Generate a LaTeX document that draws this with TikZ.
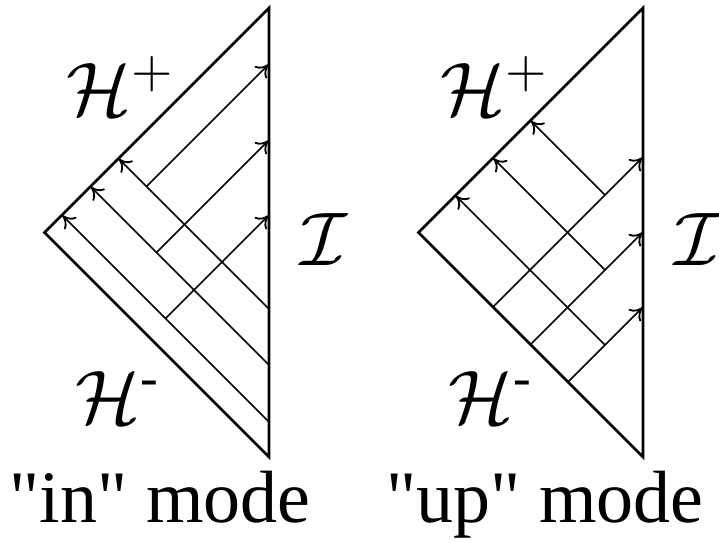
\documentclass[tikz,border=0pt]{standalone}
\usepackage{fontspec}
\setmainfont{Liberation Serif}[Ligatures=TeXOff]
\DeclareFontShape{OMS}{cmsy}{m}{n}{<->cmsy10}{}
\DeclareFontShape{OT1}{cmr}{m}{n}{<->cmr10}{}
\DeclareFontShape{OML}{cmm}{m}{it}{<->cmmi10}{}
\usetikzlibrary{arrows.meta}
\tikzset{
  edge/.style={line width=2.6pt, line join=miter},
  ray/.style={line width=1.6pt},
  arr/.style={ray, arrows={-Computer Modern Rightarrow[length=12pt,width=17pt,line width=1.8pt]}, shorten >=0.5pt},
  lbl/.style={inner sep=0pt, anchor=base west, font=\fontsize{76}{76}\selectfont},
  captext/.style={inner sep=0pt, anchor=base, font=\fontsize{74}{74}\selectfont}}
\begin{document}
\begin{tikzpicture}[x=1pt,y=-1pt]
\useasboundingbox (0,0) rectangle (719,542);
% ---------- left triangle ("in" mode)
\coordinate (LT) at (269,8);
\coordinate (LL) at (44.5,232.5);
\coordinate (LB) at (269,457);
\draw[edge] (LT) -- (LL) -- (LB) -- cycle;
\coordinate (A1) at (269,309);
\coordinate (A2) at (269,365);
\coordinate (A3) at (269,422);
\coordinate (B1) at (118.5,158.5);
\coordinate (B2) at (90.5,186.5);
\coordinate (B3) at (62,215);
\coordinate (J1) at (146.5,186.5);
\coordinate (J2) at (156.5,252.5);
\coordinate (J3) at (165.5,318.5);
\coordinate (C1) at (269,64);
\coordinate (C2) at (269,140);
\coordinate (C3) at (269,215);
\draw[arr] (A1) -- (B1);
\draw[arr] (A2) -- (B2);
\draw[arr] (A3) -- (B3);
\draw[arr] (J1) -- (C1);
\draw[arr] (J2) -- (C2);
\draw[arr] (J3) -- (C3);
% ---------- right triangle ("up" mode)
\coordinate (RT) at (643,8);
\coordinate (RL) at (418.5,232.5);
\coordinate (RB) at (643,457);
\draw[edge] (RT) -- (RL) -- (RB) -- cycle;
\coordinate (S1) at (493,307);
\coordinate (S2) at (530.5,344.5);
\coordinate (S3) at (568,382);
\coordinate (E1) at (643,157);
\coordinate (E2) at (643,232);
\coordinate (E3) at (643,307);
\coordinate (K1) at (605,195);
\coordinate (K2) at (605,270);
\coordinate (K3) at (605,345);
\coordinate (T1) at (530.5,120.5);
\coordinate (T2) at (493,158);
\coordinate (T3) at (455.5,195.5);
\draw[arr] (S1) -- (E1);
\draw[arr] (S2) -- (E2);
\draw[arr] (S3) -- (E3);
\draw[arr] (K1) -- (T1);
\draw[arr] (K2) -- (T2);
\draw[arr] (K3) -- (T3);
% ---------- labels
\node[lbl] (hpL) at (66,115) {$\mathcal{H}^{+}$};
\node[lbl] (hmL) at (75,423) {$\mathcal{H}^{\hbox{\fontsize{53}{53}\selectfont -}}$};
\node[lbl] (iL) at (300,265) {$\mathcal{I}$};
\node[lbl] (hpR) at (440,115) {$\mathcal{H}^{+}$};
\node[lbl] (hmR) at (448,423) {$\mathcal{H}^{\hbox{\fontsize{53}{53}\selectfont -}}$};
\node[lbl] (iR) at (674,265) {$\mathcal{I}$};
\node[captext] (capL) at (160,522) {"in" mode};
\node[captext] (capR) at (545,522) {"up" mode};
\end{tikzpicture}
\end{document}
